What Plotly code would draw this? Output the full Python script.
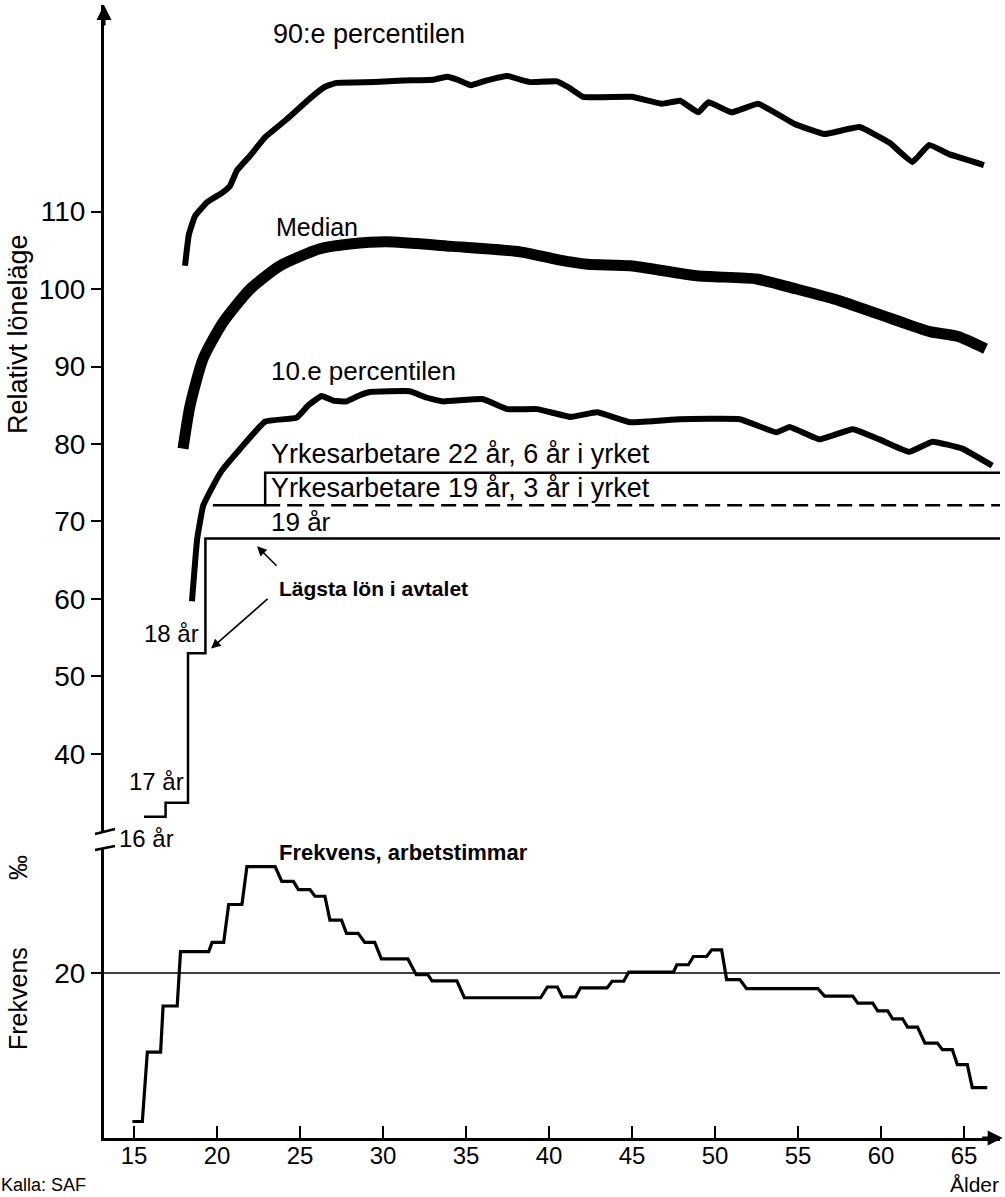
import plotly.graph_objects as go

# ---------------- data ----------------
# 90:e percentilen
p90_age = [18.07, 18.3, 18.67, 19.4, 20.3, 20.78, 21.2, 21.99, 22.9, 24.2, 25.6, 26.5, 27.2, 29.5,
           31.2, 33.0, 33.86, 34.5, 35.3, 36.2, 37.5, 38.3, 38.86, 40.48, 41.2, 42.05, 45.0, 46.8,
           47.9, 49.0, 49.6, 51.0, 52.6, 54.8, 56.6, 58.7, 60.5, 61.9, 62.9, 64.1, 66.2]
p90_val = [103.0, 107.0, 109.4, 111.2, 112.4, 113.3, 115.3, 117.2, 119.6, 121.9, 124.6, 126.1, 126.6, 126.7,
           126.9, 127.0, 127.4, 127.0, 126.3, 126.9, 127.5, 127.0, 126.7, 126.8, 126.0, 124.8, 124.8, 123.9,
           124.3, 122.8, 124.1, 122.8, 123.9, 121.3, 120.0, 120.9, 118.9, 116.4, 118.6, 117.4, 116.0]

# Median
med_age = [17.95, 18.37, 19.16, 20.36, 22.0, 23.8, 26.2, 28.0, 30.2, 34.2, 38.25, 40.5, 42.3, 44.9,
           48.9, 52.5, 54.9, 57.5, 61.0, 62.95, 64.6, 66.3]
med_val = [79.4, 84.9, 91.0, 95.7, 100.0, 103.0, 105.2, 105.8, 106.1, 105.5, 104.8, 103.8, 103.2, 103.0,
           101.7, 101.3, 100.0, 98.5, 95.9, 94.5, 93.9, 92.3]

# 10.e percentilen
p10_age = [18.49, 18.8, 19.16, 19.76, 20.3, 21.4, 22.9, 24.8, 25.5, 26.3, 27.0, 27.8, 28.5, 29.2, 31.6,
           32.6, 33.6, 36.0, 37.5, 39.3, 41.3, 42.9, 44.9, 47.9, 51.5, 53.7, 54.5, 56.3, 58.3, 59.9,
           61.7, 63.1, 64.9, 66.7]
p10_val = [59.7, 67.7, 72.0, 74.6, 76.6, 79.4, 82.9, 83.4, 85.0, 86.2, 85.6, 85.5, 86.2, 86.7, 86.8,
           86.0, 85.5, 85.8, 84.5, 84.5, 83.5, 84.1, 82.8, 83.2, 83.2, 81.5, 82.2, 80.6, 81.9, 80.6,
           79.0, 80.3, 79.4, 77.2]

# Lägsta lön i avtalet (steps: 16, 17, 18, 19 år)
min_age = [15.6, 16.9, 18.25, 19.3, 67.2]
min_val = [31.9, 33.7, 53.0, 67.8, 67.8]

# Yrkesarbetare 22 år, 6 år i yrket (solid) and 19 år, 3 år i yrket (dashed)
yrk22_age = [19.75, 22.9, 67.2]
yrk22_val = [72.1, 76.3, 76.3]
yrk19_age = [22.9, 67.2]
yrk19_val = [72.1, 72.1]

# Frekvens, arbetstimmar (‰) – step segments
freq_start = [14.9, 15.8, 16.75, 17.8, 19.7, 20.7, 21.8, 23.9, 24.9, 25.9, 26.8, 27.8, 28.9, 29.9,
              32.0, 32.95, 34.9, 39.9, 40.8, 41.9, 43.8, 44.8, 47.7, 48.7, 49.8, 50.7, 51.9, 56.6,
              58.6, 59.8, 60.7, 61.6, 62.65, 63.7, 64.6, 65.5]
freq_end = [15.5, 16.6, 17.6, 19.5, 20.4, 21.5, 23.5, 24.6, 25.6, 26.5, 27.5, 28.5, 29.5, 31.5,
            32.7, 34.45, 39.5, 40.5, 41.6, 43.5, 44.5, 47.5, 48.4, 49.5, 50.4, 51.5, 56.2, 58.3,
            59.5, 60.4, 61.3, 62.2, 63.4, 64.3, 65.2, 66.4]
freq_val = [2.0, 10.4, 16.0, 22.6, 23.7, 28.3, 32.9, 31.1, 30.1, 29.3, 26.4, 24.8, 23.7, 21.7,
            19.8, 19.05, 17.0, 18.3, 17.1, 18.2, 19.0, 20.1, 21.0, 22.0, 22.8, 19.2, 18.1, 17.2,
            16.35, 15.4, 14.45, 13.45, 11.5, 10.7, 8.9, 6.1]

x_ticks = [15, 20, 25, 30, 35, 40, 45, 50, 55, 60, 65]
y_ticks = [40, 50, 60, 70, 80, 90, 100, 110]
freq_ref = 20

# ---------------- figure ----------------
FONT = "Liberation Sans, Arial, Helvetica, sans-serif"
NARROW = "Liberation Sans Narrow, Arial Narrow, Liberation Sans, Arial, sans-serif"
BLACK = "#000000"

fig = go.Figure()

fx, fy = [], []
for s, e, v in zip(freq_start, freq_end, freq_val):
    fx += [s, e]
    fy += [v, v]

fig.add_trace(go.Scatter(x=p90_age, y=p90_val, mode="lines", yaxis="y",
                         line=dict(color=BLACK, width=6, shape="spline", smoothing=0.3)))
fig.add_trace(go.Scatter(x=med_age, y=med_val, mode="lines", yaxis="y",
                         line=dict(color=BLACK, width=11, shape="spline", smoothing=0.6)))
fig.add_trace(go.Scatter(x=p10_age, y=p10_val, mode="lines", yaxis="y",
                         line=dict(color=BLACK, width=6, shape="spline", smoothing=0.3)))
fig.add_trace(go.Scatter(x=min_age, y=min_val, mode="lines", yaxis="y",
                         line=dict(color=BLACK, width=2.5, shape="hv")))
fig.add_trace(go.Scatter(x=yrk22_age, y=yrk22_val, mode="lines", yaxis="y",
                         line=dict(color=BLACK, width=2.5, shape="hv")))
fig.add_trace(go.Scatter(x=yrk19_age, y=yrk19_val, mode="lines", yaxis="y",
                         line=dict(color=BLACK, width=2.5, dash="15px,7px")))
fig.add_trace(go.Scatter(x=[13.19, 67.17], y=[freq_ref, freq_ref], mode="lines", yaxis="y2",
                         line=dict(color=BLACK, width=1.5)))
fig.add_trace(go.Scatter(x=fx, y=fy, mode="lines", yaxis="y2",
                         line=dict(color=BLACK, width=3.2)))

ann = []
def txt(text, x, y, size=26, xanchor="left", yanchor="middle", bold=False, family=FONT,
        xref="x", yref="y", angle=0):
    ann.append(dict(text=("<b>%s</b>" % text) if bold else text, x=x, y=y, xref=xref, yref=yref,
                    xanchor=xanchor, yanchor=yanchor, showarrow=False, textangle=angle,
                    borderpad=0, font=dict(family=family, size=size, color=BLACK)))

PX = lambda px: (px - 104) / 896      # paper x from pixel
PY = lambda py: (1138 - py) / 1133    # paper y from pixel

txt("90:e percentilen", 23.31, 132.9, size=27)
txt("Median", 23.49, 108.0, size=25)
txt("10.e percentilen", 23.19, 89.4, size=26)
txt("Yrkesarbetare 22 år, 6 år i yrket", 23.19, 78.7, size=27)
txt("Yrkesarbetare 19 år, 3 år i yrket", 23.19, 74.3, size=27)
txt("19 år", 23.19, 69.9, size=26)
txt("Lägsta lön i avtalet", 23.67, 61.3, size=21, bold=True, family=NARROW)
txt("18 år", 18.98, 55.6, size=24, xanchor="right")
txt("17 år", 18.07, 36.4, size=24, xanchor="right")
txt("16 år", PX(118), PY(838), size=24, xref="paper", yref="paper")
txt("Frekvens, arbetstimmar", 23.67, 34.6, size=22, bold=True, family=NARROW, yref="y2")
txt("Relativt löneläge", PX(18), PY(334), size=27, xanchor="center",
    xref="paper", yref="paper", angle=-90)
txt("Frekvens", PX(18), PY(999), size=25, xanchor="center",
    xref="paper", yref="paper", angle=-90)
txt("‰", PX(18), PY(868), size=25, xanchor="center",
    xref="paper", yref="paper", angle=-90)
txt("Ålder", PX(1000), PY(1197), size=21, xanchor="right", yanchor="bottom",
    xref="paper", yref="paper")
txt("Kalla: SAF", PX(0), PY(1185), size=18, family=NARROW,
    xref="paper", yref="paper")

# pointer arrows for "Lägsta lön i avtalet"
ann.append(dict(x=22.41, y=66.8, xref="x", yref="y", ax=21, ay=21, text="", showarrow=True,
                arrowhead=2, arrowsize=1.2, arrowwidth=1.6, arrowcolor=BLACK))
ann.append(dict(x=19.64, y=53.6, xref="x", yref="y", ax=58, ay=-51, text="", showarrow=True,
                arrowhead=2, arrowsize=1.2, arrowwidth=1.6, arrowcolor=BLACK))
# axis arrows
ann.append(dict(x=1.003, y=0, xref="paper", yref="paper", ax=-22, ay=0, text="", showarrow=True,
                arrowhead=2, arrowsize=1, arrowwidth=3, arrowcolor=BLACK))
ann.append(dict(x=0, y=1.0, xref="paper", yref="paper", ax=0, ay=22, text="", showarrow=True,
                arrowhead=2, arrowsize=1, arrowwidth=3, arrowcolor=BLACK))

shapes = [
    dict(type="line", xref="paper", yref="paper", x0=PX(95), y0=PY(834),
         x1=PX(115), y1=PY(829), line=dict(color=BLACK, width=2.5)),
    dict(type="line", xref="paper", yref="paper", x0=PX(95), y0=PY(850),
         x1=PX(115), y1=PY(846), line=dict(color=BLACK, width=2.5)),
]

fig.update_layout(
    width=1005, height=1197,
    margin=dict(l=104, r=5, t=5, b=59),
    paper_bgcolor="white", plot_bgcolor="white",
    showlegend=False,
    font=dict(family=FONT, color=BLACK),
    annotations=ann, shapes=shapes,
    xaxis=dict(range=[13.19, 67.17], anchor="y2", tickmode="array", tickvals=x_ticks,
               ticks="inside", ticklen=12, tickwidth=1.5, tickcolor=BLACK, ticklabelstandoff=-6,
               showline=True, linewidth=3, linecolor=BLACK, showgrid=False, zeroline=False,
               tickfont=dict(size=24, family=FONT, color=BLACK)),
    yaxis=dict(domain=[PY(831), 1], range=[30.06, 136.65], anchor="x",
               tickmode="array", tickvals=y_ticks, ticks="outside", ticklen=10, tickwidth=1.5,
               tickcolor=BLACK, showline=True, linewidth=3, linecolor=BLACK, showgrid=False,
               zeroline=False, tickfont=dict(size=28, family=FONT, color=BLACK)),
    yaxis2=dict(domain=[0, PY(848)], range=[0, 35.15], anchor="x",
                tickmode="array", tickvals=[freq_ref], ticks="outside", ticklen=10, tickwidth=1.5,
                tickcolor=BLACK, showline=True, linewidth=3, linecolor=BLACK, showgrid=False,
                zeroline=False, tickfont=dict(size=28, family=FONT, color=BLACK)),
)

fig.write_html("out.html", config={"displayModeBar": False},
               post_script="document.body.style.margin='0';document.body.style.overflow='hidden';")
